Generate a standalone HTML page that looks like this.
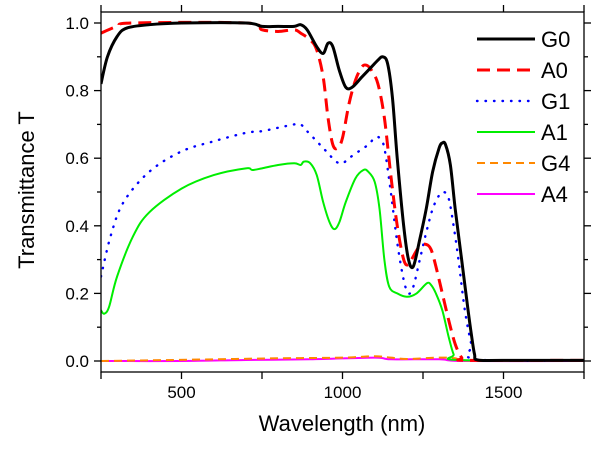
<!DOCTYPE html>
<html><head><meta charset="utf-8"><style>
body{margin:0;background:#fff;}
svg{display:block;font-family:"Liberation Sans",Arial,sans-serif;}
</style></head><body>
<svg id="chart" width="600" height="450">
<g id="plot"></g>
<g id="axes"></g>
<text x="342" y="431" font-size="22" text-anchor="middle">Wavelength (nm)</text>
<text transform="translate(34,190) rotate(-90)" font-size="22" text-anchor="middle">Transmittance T</text>
<g id="legend"></g>
</svg>
<script>
const xTicks=[500,1000,1500];
const xMinor=[250,750,1250,1750];
const yTicks=[0,0.2,0.4,0.6,0.8,1.0];
const yTickLabels=["0.0","0.2","0.4","0.6","0.8","1.0"];
const seriesNames=["G0","A0","G1","A1","G4","A4"];
const G0_wl=[250,270,300,330,400,500,700,750,800,850,870,890,920,940,955,970,990,1010,1030,1060,1090,1110,1125,1140,1155,1170,1190,1205,1220,1240,1260,1280,1300,1310,1320,1335,1350,1370,1390,1400,1410,1420,1500,1750];
const G0_T=[0.82,0.9,0.96,0.985,0.995,1.0,1.0,0.99,0.99,0.99,0.995,0.98,0.93,0.91,0.94,0.93,0.86,0.81,0.81,0.84,0.87,0.89,0.9,0.88,0.78,0.6,0.4,0.3,0.28,0.36,0.45,0.56,0.63,0.645,0.64,0.58,0.45,0.3,0.15,0.08,0.02,0.003,0.002,0.002];
const A0_wl=[250,300,350,700,750,800,850,870,900,920,940,955,970,985,1000,1020,1040,1060,1075,1090,1110,1130,1150,1170,1190,1205,1220,1240,1260,1275,1290,1310,1330,1350,1370,1390,1750];
const A0_T=[0.97,0.99,1.0,1.0,0.98,0.975,0.98,0.97,0.95,0.92,0.84,0.72,0.64,0.63,0.66,0.76,0.83,0.87,0.875,0.86,0.82,0.72,0.55,0.4,0.3,0.285,0.31,0.34,0.345,0.33,0.28,0.2,0.12,0.05,0.01,0.002,0.002];
const G1_wl=[250,280,320,400,500,600,700,750,800,850,870,890,920,950,980,1000,1020,1050,1080,1100,1115,1130,1150,1170,1190,1205,1220,1240,1260,1280,1300,1315,1330,1345,1360,1380,1400,1415,1750];
const G1_T=[0.25,0.37,0.47,0.56,0.62,0.65,0.675,0.68,0.69,0.7,0.7,0.68,0.65,0.62,0.59,0.585,0.6,0.62,0.64,0.66,0.66,0.63,0.5,0.35,0.24,0.2,0.22,0.3,0.38,0.45,0.49,0.5,0.48,0.4,0.3,0.15,0.05,0.005,0.002];
const A1_wl=[250,260,275,300,350,400,500,600,700,720,750,800,850,870,880,900,920,940,960,975,990,1010,1040,1065,1080,1100,1115,1130,1145,1170,1200,1230,1262,1275,1290,1310,1330,1345,1360,1750];
const A1_T=[0.15,0.14,0.16,0.25,0.37,0.44,0.51,0.55,0.57,0.565,0.57,0.58,0.585,0.58,0.59,0.585,0.55,0.47,0.41,0.39,0.41,0.47,0.54,0.565,0.56,0.53,0.45,0.3,0.22,0.2,0.19,0.2,0.23,0.225,0.2,0.15,0.07,0.02,0.003,0.002];
const G4_wl=[250,400,600,800,1000,1100,1150,1200,1300,1350,1400,1750];
const G4_T=[0,0.002,0.005,0.008,0.01,0.014,0.01,0.006,0.01,0.008,0.001,0.001];
const A4_wl=[250,500,700,900,1100,1150,1300,1380,1750];
const A4_T=[0,0,0.003,0.005,0.01,0.005,0.005,0,0];

const L=101,R=584,T=12,B=372;
const xs=v=>L+(v-250)/1500*(R-L);
const ys=v=>361-v*338;
const NS="http://www.w3.org/2000/svg";
function mk(tag,attrs,parent){const e=document.createElementNS(NS,tag);for(const k in attrs)e.setAttribute(k,attrs[k]);parent.appendChild(e);return e;}
const plot=document.getElementById('plot'),axes=document.getElementById('axes'),leg=document.getElementById('legend');
const defs=mk('defs',{},plot);const cp=mk('clipPath',{id:'cp'},defs);mk('rect',{x:L,y:T,width:R-L,height:B-T},cp);
function pathD(wl,t){const p=wl.map((w,i)=>[xs(w),ys(t[i])]);let d=`M${p[0][0]},${p[0][1]}`;
for(let i=0;i<p.length-1;i++){const p0=p[Math.max(0,i-1)],p1=p[i],p2=p[i+1],p3=p[Math.min(p.length-1,i+2)];
const c1=[p1[0]+(p2[0]-p0[0])/6,p1[1]+(p2[1]-p0[1])/6],c2=[p2[0]-(p3[0]-p1[0])/6,p2[1]-(p3[1]-p1[1])/6];
d+=` C${c1[0]},${c1[1]} ${c2[0]},${c2[1]} ${p2[0]},${p2[1]}`;}return d;}
const styles=[
{c:'#000',w:3,da:''},{c:'#f00',w:3,da:'13,7'},{c:'#00f',w:2.4,da:'0.5,8'},{c:'#0e0',w:2,da:''},{c:'#f80',w:2,da:'8,5'},{c:'#f0f',w:2,da:''}];
const data=[[G0_wl,G0_T],[A0_wl,A0_T],[G1_wl,G1_T],[A1_wl,A1_T],[G4_wl,G4_T],[A4_wl,A4_T]];
const g=mk('g',{'clip-path':'url(#cp)'},plot);
for(let i=data.length-1;i>=0;i--){const s=styles[i];
const p=mk('path',{d:pathD(data[i][0],data[i][1]),fill:'none',stroke:s.c,'stroke-width':s.w,'stroke-dasharray':s.da,'stroke-linecap':i===2?'round':'butt'},g);

}
const frame=mk('rect',{x:L,y:T,width:R-L,height:B-T,fill:'none',stroke:'#000','stroke-width':1.3},axes);


xTicks.concat(xMinor).forEach(v=>{const x=xs(v);
mk('line',{x1:x,y1:B,x2:x,y2:B+7,stroke:'#000','stroke-width':1.3},axes);
mk('line',{x1:x,y1:T,x2:x,y2:T-7,stroke:'#000','stroke-width':1.3},axes);});
xTicks.forEach(v=>{const t=mk('text',{x:xs(v),y:398,'font-size':17,'text-anchor':'middle'},axes);t.textContent=v;

});
yTicks.forEach((v,i)=>{const y=ys(v);
mk('line',{x1:L,y1:y,x2:L-7,y2:y,stroke:'#000','stroke-width':1.3},axes);
mk('line',{x1:R,y1:y,x2:R+7,y2:y,stroke:'#000','stroke-width':1.3},axes);
const m=ys(v+0.1);if(v<1){mk('line',{x1:L,y1:m,x2:L-4,y2:m,stroke:'#000','stroke-width':1.3},axes);mk('line',{x1:R,y1:m,x2:R+4,y2:m,stroke:'#000','stroke-width':1.3},axes);}
const t=mk('text',{x:89,y:y+6,'font-size':17,'text-anchor':'end'},axes);t.textContent=yTickLabels[i];

});
seriesNames.forEach((n,i)=>{const y=39+i*31,s=styles[i];
const e=mk('g',{},leg);


mk('line',{x1:477,y1:y,x2:535,y2:y,stroke:s.c,'stroke-width':s.w,'stroke-dasharray':s.da,'stroke-linecap':i===2?'round':'butt'},e);
const t=mk('text',{x:541,y:y+8,'font-size':22},e);t.textContent=n;});
</script>
</body></html>
